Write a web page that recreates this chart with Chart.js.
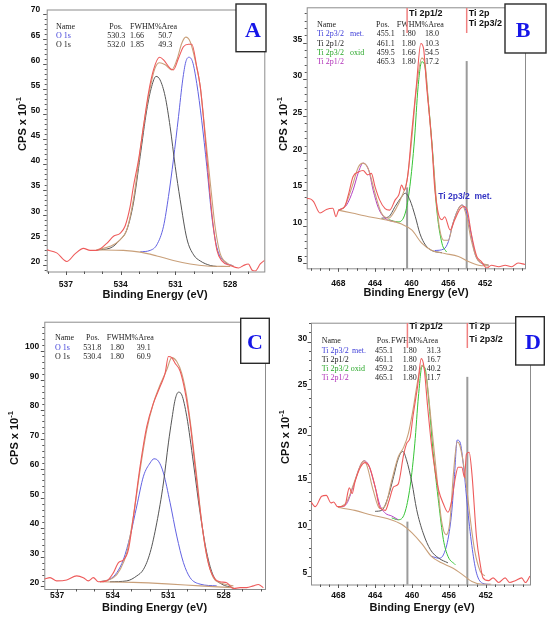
<!DOCTYPE html>
<html>
<head>
<meta charset="utf-8">
<script src="https://cdn.jsdelivr.net/npm/chart.js@4.4.1/dist/chart.umd.min.js"></script>
<style>
  body { margin: 0; background: #fff; }
  #wrap { position: relative; width: 550px; height: 625px; overflow: hidden; background: #fff; }
  canvas { position: absolute; }
</style>
</head>
<body>
<div id="wrap">
  <canvas id="pA" width="275" height="310" style="left:0;top:0"></canvas>
  <canvas id="pB" width="275" height="310" style="left:275px;top:0"></canvas>
  <canvas id="pC" width="275" height="315" style="left:0;top:310px"></canvas>
  <canvas id="pD" width="275" height="315" style="left:275px;top:310px"></canvas>
</div>
<script>
// ---------- panel A : O 1s ----------
var aXTicks = [537, 534, 531, 528];
var aYTicks = [20, 25, 30, 35, 40, 45, 50, 55, 60, 65, 70];
var aNames = ['O 1s', 'O 1s'];
var aPos = [530.3, 532.0];
var aFwhm = [1.66, 1.85];
var aArea = [50.7, 49.3];
var aRaw = [[538.05,23.0],[537.5,22.4],[536.95,20.7],[536.5,22.2],[536.04,23.3],[535.67,22.9],[535.31,22.9],[534.76,24.3],[534.39,25.7],[534.03,26.3],[533.76,27.7],[533.48,31.6],[533.3,35.6],[533.02,40.9],[532.75,47.5],[532.48,54.1],[532.2,58.8],[531.87,61.3],[531.65,60.8],[531.29,59.1],[531.11,58.8],[530.83,61.1],[530.56,63.4],[530.28,63.9],[530.1,63.9],[529.83,59.4],[529.64,55.5],[529.42,47.5],[529.19,37.5],[528.95,28.5],[528.73,23.0],[528.45,20.8],[528.0,19.9],[527.54,19.4],[527.27,19.9],[527.0,20.2],[526.81,19.0],[526.63,18.8],[526.35,20.2],[526.08,21.0]];
var aEnv = [[535.31,23.0],[534.58,23.7],[534.03,25.0],[533.66,27.0],[533.3,33.0],[533.02,40.2],[532.75,47.5],[532.39,55.1],[532.12,59.1],[531.87,60.2],[531.56,59.8],[531.2,58.8],[530.92,60.8],[530.65,64.1],[530.43,65.3],[530.19,64.4],[529.92,60.8],[529.64,55.5],[529.37,46.2],[529.09,36.4],[528.82,27.5],[528.55,22.3],[528.18,20.4],[527.82,19.8]];
var aBg = [[535.31,23.0],[533.85,22.9],[532.93,22.55],[532.02,21.8],[531.11,20.9],[530.19,20.2],[529.28,19.8],[528.0,19.7]];
var aBlack = [[535.31,23.0],[534.58,23.35],[534.03,25.0],[533.66,27.0],[533.3,32.3],[532.93,41.6],[532.57,50.8],[532.3,55.5],[532.06,57.5],[531.84,56.8],[531.56,53.5],[531.29,47.5],[531.01,39.6],[530.74,33.0],[530.37,25.2],[530.0,22.0],[529.64,20.8],[529.09,19.9],[528.73,19.7]];
var aBlue = [[532.93,22.6],[532.38,22.9],[532.02,24.0],[531.65,27.7],[531.38,33.6],[531.11,40.9],[530.83,49.5],[530.6,56.8],[530.43,60.4],[530.26,61.3],[530.06,60.4],[529.83,56.1],[529.56,48.8],[529.28,39.6],[529.0,29.5],[528.73,23.5],[528.36,20.8],[527.82,19.8]];

// ---------- panel B : Ti 2p ----------
var bXTicks = [468, 464, 460, 456, 452];
var bYTicks = [5, 10, 15, 20, 25, 30, 35];
var bNames = ['Ti 2p3/2', 'Ti 2p1/2', 'Ti 2p3/2', 'Ti 2p1/2'];
var bTags = ['met.', '', 'oxid', ''];
var bPos = [455.1, 461.1, 459.5, 465.3];
var bFwhm = [1.80, 1.80, 1.66, 1.80];
var bArea = [18.0, 10.3, 54.5, 17.2];
var bRaw = [[471.45,13.8],[471.0,13.7],[470.7,13.35],[470.0,11.8],[469.3,12.3],[468.6,12.45],[468.25,11.3],[468.0,12.1],[467.3,12.7],[466.9,14.3],[466.4,16.75],[465.8,17.4],[465.3,17.6],[464.8,17.0],[464.4,17.2],[464.0,15.4],[463.5,13.6],[462.9,12.4],[462.4,12.2],[461.8,13.6],[461.4,14.3],[461.1,15.6],[460.8,14.9],[460.4,17.2],[460.0,22.7],[459.5,29.0],[459.0,34.9],[458.7,34.2],[458.4,29.5],[457.8,21.3],[457.5,15.4],[457.1,11.8],[456.7,10.9],[456.4,11.3],[455.8,9.5],[455.3,10.9],[454.7,12.4],[454.3,12.7],[453.9,12.0],[453.5,9.0],[452.9,5.9],[452.4,5.2],[451.8,4.3],[451.3,4.7],[450.5,4.5],[449.8,4.7],[449.1,4.5],[448.4,5.0],[447.64,4.8]];
var bEnv = [[468.0,12.2],[467.3,12.7],[466.5,15.4],[465.8,18.1],[465.3,18.6],[464.7,17.7],[464.0,14.5],[463.3,11.8],[462.5,11.1],[461.8,12.2],[461.1,14.0],[460.5,16.3],[460.0,21.75],[459.5,28.6],[458.9,32.9],[458.5,31.7],[458.2,27.2],[457.6,18.1],[457.1,10.9],[456.5,8.1],[456.0,8.1],[455.5,10.4],[454.9,12.4],[454.5,12.9],[454.0,11.3],[453.5,8.1],[452.9,5.6],[452.4,5.0],[451.6,4.7]];
var bBg = [[468.0,12.2],[466.5,11.8],[464.7,11.3],[462.9,10.9],[461.1,10.3],[460.0,9.5],[458.9,7.7],[457.8,6.7],[456.4,6.3],[454.9,5.9],[453.8,5.2],[452.7,4.7],[451.6,4.6]];
var bPurple = [[468.0,12.2],[467.1,12.9],[466.4,14.9],[465.8,17.4],[465.3,18.6],[464.7,17.7],[464.2,14.9],[463.6,12.4],[462.9,11.1],[461.8,10.6]];
var bBlack = [[463.3,11.1],[462.5,11.3],[461.8,12.7],[461.1,14.0],[460.7,14.5],[460.2,13.6],[459.6,11.3],[459.1,9.0],[458.5,7.45],[457.8,6.7],[456.7,6.4]];
var bGreen = [[462.5,10.9],[461.5,10.6],[460.7,11.8],[460.2,15.4],[459.7,21.75],[459.3,29.0],[458.9,32.4],[458.6,32.0],[458.2,27.2],[457.7,19.9],[457.3,12.7],[456.7,7.7],[456.2,6.5]];
var bBlue = [[457.5,6.7],[456.5,6.9],[456.0,7.9],[455.5,10.4],[454.9,12.4],[454.5,12.9],[454.1,12.2],[453.6,9.5],[453.1,6.3],[452.5,5.05],[451.6,4.7]];

// ---------- panel C : O 1s ----------
var cXTicks = [537, 534, 531, 528];
var cYTicks = [20, 30, 40, 50, 60, 70, 80, 90, 100];
var cNames = ['O 1s', 'O 1s'];
var cPos = [531.8, 530.4];
var cFwhm = [1.80, 1.80];
var cArea = [39.1, 60.9];
var cRaw = [[537.68,22.5],[537.38,23.0],[537.02,21.9],[536.48,22.2],[535.94,23.6],[535.58,23.0],[535.31,21.9],[535.04,23.0],[534.77,21.6],[534.32,21.9],[533.95,24.7],[533.68,28.1],[533.41,29.0],[533.14,32.6],[532.87,43.9],[532.51,60.8],[532.15,74.3],[531.79,82.2],[531.43,87.8],[531.16,92.3],[530.98,98.0],[530.8,97.6],[530.62,95.7],[530.35,93.1],[530.08,86.1],[529.81,75.4],[529.54,60.8],[529.27,46.1],[529.0,33.7],[528.73,25.8],[528.46,22.5],[528.19,21.6],[527.83,21.3],[527.47,19.3],[527.11,19.6],[526.75,19.6],[526.39,20.2],[526.12,20.7],[525.85,19.6]];
var cEnv = [[534.68,21.6],[533.95,23.0],[533.59,25.8],[533.23,31.5],[532.87,43.9],[532.51,59.6],[532.15,73.2],[531.79,82.2],[531.43,88.4],[531.07,93.5],[530.8,97.6],[530.53,96.3],[530.26,92.3],[529.99,84.4],[529.72,72.0],[529.45,57.4],[529.18,41.6],[528.91,30.4],[528.55,23.0],[528.19,21.3],[527.47,20.2]];
var cBg = [[534.68,21.6],[532.87,21.4],[531.07,20.9],[529.27,20.2],[527.47,19.6]];
var cBlue = [[534.68,21.6],[534.14,22.5],[533.77,24.7],[533.41,29.2],[533.05,37.1],[532.69,47.3],[532.33,57.4],[531.97,61.9],[531.76,63.3],[531.52,62.5],[531.25,58.5],[530.89,48.4],[530.53,37.1],[530.17,28.1],[529.81,23.0],[529.27,20.8],[528.37,20.2]];
var cBlack = [[534.14,21.6],[533.23,21.9],[532.69,23.6],[532.33,25.8],[531.97,31.5],[531.61,41.6],[531.25,55.1],[530.98,68.7],[530.8,76.5],[530.62,83.3],[530.44,85.9],[530.26,85.0],[529.99,77.7],[529.63,61.9],[529.27,45.0],[528.91,31.5],[528.55,23.6],[528.1,20.8],[527.47,19.6]];

// ---------- panel D : Ti 2p ----------
var dXTicks = [468, 464, 460, 456, 452];
var dYTicks = [5, 10, 15, 20, 25, 30];
var dNames = ['Ti 2p3/2', 'Ti 2p1/2', 'Ti 2p3/2 oxid', 'Ti 2p1/2'];
var dTags = ['met.', '', '', ''];
var dPos = [455.1, 461.1, 459.2, 465.1];
var dFwhm = [1.80, 1.80, 1.80, 1.80];
var dArea = [31.3, 16.7, 40.2, 11.7];
var dRaw = [[470.96,12.9],[470.5,12.4],[469.8,13.5],[469.3,13.6],[468.8,12.8],[468.5,12.9],[468.1,12.4],[467.3,12.5],[466.8,14.4],[466.5,13.8],[466.2,15.0],[465.6,16.6],[465.1,17.1],[464.6,16.6],[464.0,14.5],[463.5,12.3],[462.9,12.0],[462.5,13.0],[462.0,14.5],[461.5,14.8],[460.9,18.0],[460.6,19.1],[460.2,19.8],[459.9,22.0],[459.4,25.2],[459.0,28.2],[458.7,27.3],[458.3,23.0],[457.9,19.1],[457.5,16.25],[457.1,14.1],[456.6,12.7],[456.1,11.8],[455.7,13.0],[455.3,15.5],[455.0,16.6],[454.6,16.6],[454.3,15.5],[454.1,18.0],[453.8,18.2],[453.5,15.9],[453.0,9.1],[452.6,6.25],[452.3,4.8],[451.7,4.5],[451.2,4.8],[450.6,4.3],[449.9,4.8],[449.4,4.3],[448.8,4.5],[448.1,4.8],[447.7,4.3],[447.2,5.0]];
var dEnv = [[468.0,12.3],[467.1,12.86],[466.2,15.2],[465.5,17.0],[465.2,17.3],[464.9,16.8],[464.2,14.1],[463.5,12.2],[462.9,12.5],[462.2,15.2],[461.5,17.7],[460.9,18.75],[460.4,20.2],[459.9,22.7],[459.3,26.25],[458.9,27.5],[458.4,25.9],[457.9,21.25],[457.3,15.5],[456.8,10.9],[456.3,9.4],[455.9,10.7],[455.5,16.0],[455.1,19.3],[454.8,18.9],[454.2,15.5],[453.7,11.25],[453.2,7.7],[452.6,5.5],[452.1,5.0]];
var dBg = [[468.0,12.3],[466.2,12.0],[464.4,11.5],[462.6,11.1],[461.1,10.5],[460.0,9.6],[458.9,8.4],[457.9,7.1],[456.8,6.4],[455.7,5.9],[454.6,5.2],[453.5,4.4],[452.4,4.1],[451.4,4.1]];
var dPurple = [[468.0,12.3],[467.1,12.7],[466.4,14.5],[465.6,16.8],[465.2,17.3],[464.7,16.8],[464.0,14.5],[463.5,12.6],[462.9,11.7],[462.2,11.4],[461.5,11.0]];
var dBlack = [[464.0,11.9],[463.3,12.0],[462.6,13.4],[462.0,15.6],[461.5,17.5],[461.0,18.3],[460.6,17.4],[460.0,14.9],[459.5,12.1],[458.8,9.6],[458.0,7.8],[457.1,6.9],[456.1,6.4]];
var dGreen = [[462.2,11.2],[461.5,11.0],[460.8,11.7],[460.2,14.6],[459.7,19.1],[459.3,24.2],[458.9,27.4],[458.6,27.2],[458.2,23.9],[457.7,18.1],[457.1,12.75],[456.6,8.9],[456.1,7.1],[455.3,6.2]];
var dBlue = [[457.9,7.1],[457.1,6.9],[456.6,7.25],[456.1,8.9],[455.7,11.75],[455.4,15.6],[455.1,19.5],[454.8,19.3],[454.4,16.6],[453.95,12.0],[453.45,7.8],[453.0,5.3],[452.3,4.2],[451.5,4.1]];

// Ti 2p marker lines (energy, top of grey line)
var bGuides = [[460.5, 15.3], [454.0, 32.5]];
var dGuides = [[460.5, 10.8], [454.0, 26.25]];

var RED = '#ee5b5b', TAN = '#c9a07a', BLUE = '#6262e2', GREY = '#555555', GREEN = '#35c435', PURPLE = '#b342c4';
var NAMECOL = ['#3d3dd8', '#222222', '#2aa82a', '#b030b8'];
var SANS = '"Liberation Sans", Arial, sans-serif';
var SERIF = '"Liberation Serif", "Times New Roman", serif';

function deco(p) {
  return {
    id: 'deco',
    beforeDatasetsDraw: function (chart) {
      var ctx = chart.ctx, a = chart.chartArea, xs = chart.scales.x, ys = chart.scales.y;
      ctx.save();
      (p.guides || []).forEach(function (g) {
        var x = xs.getPixelForValue(g[0]);
        ctx.strokeStyle = '#9b9b9b'; ctx.lineWidth = 2;
        ctx.beginPath(); ctx.moveTo(x, a.bottom); ctx.lineTo(x, ys.getPixelForValue(g[1])); ctx.stroke();
      });
      ctx.strokeStyle = '#8c8c8c'; ctx.lineWidth = 1;
      ctx.strokeRect(a.left + 0.5, a.top + 0.5, a.right - a.left, a.bottom - a.top);
      ctx.strokeStyle = '#555'; ctx.beginPath();
      var i, v, px, len;
      for (i = Math.ceil(ys.min / p.yMinor); i * p.yMinor <= ys.max; i++) {
        v = i * p.yMinor; px = Math.round(ys.getPixelForValue(v)) + 0.5;
        len = p.yTicks.indexOf(v) >= 0 ? 3.5 : 2;
        ctx.moveTo(a.left, px); ctx.lineTo(a.left - len, px);
      }
      for (i = Math.ceil(xs.min); i <= xs.max; i++) {
        px = Math.round(xs.getPixelForValue(i)) + 0.5;
        len = p.xTicks.indexOf(i) >= 0 ? 3.5 : 2.5;
        ctx.moveTo(px, a.bottom); ctx.lineTo(px, a.bottom + len);
      }
      ctx.stroke();
      ctx.restore();
    },
    afterDraw: function (chart) {
      var ctx = chart.ctx, xs = chart.scales.x, ys = chart.scales.y;
      var X = function (v) { return xs.getPixelForValue(v) + p.ox; };
      var Y = function (v) { return ys.getPixelForValue(v) + p.oy; };
      ctx.save();
      ctx.translate(-p.ox, -p.oy);
      ctx.fillStyle = '#111';
      // axis titles
      ctx.font = 'bold 11px ' + SANS; ctx.textAlign = 'center'; ctx.textBaseline = 'middle';
      ctx.fillText('Binding Energy (eV)', p.xTitle[0], p.xTitle[1]);
      ctx.save();
      ctx.translate(p.yTitle[0], p.yTitle[1]); ctx.rotate(-Math.PI / 2);
      var w1 = ctx.measureText('CPS x 10').width;
      ctx.font = 'bold 7.5px ' + SANS;
      var w2 = ctx.measureText('-1').width;
      ctx.textAlign = 'left';
      ctx.font = 'bold 11px ' + SANS;
      ctx.fillText('CPS x 10', -(w1 + w2) / 2, 0);
      ctx.font = 'bold 7.5px ' + SANS;
      ctx.fillText('-1', -(w1 + w2) / 2 + w1, -4.5);
      ctx.restore();
      // peak table
      var T = p.table;
      ctx.font = '8px ' + SERIF; ctx.textAlign = 'left'; ctx.textBaseline = 'middle';
      ctx.fillStyle = '#222';
      ctx.fillText('Name', T.cols[0], T.rows[0]);
      ctx.fillText('Pos.', T.cols[1], T.rows[0]);
      ctx.fillText('FWHM%Area', T.cols[2], T.rows[0]);
      p.names.forEach(function (n, k) {
        var y = T.rows[k + 1];
        ctx.fillStyle = NAMECOL[p.nameCol[k]];
        ctx.fillText(n, T.cols[0], y);
        if (p.tags && p.tags[k]) ctx.fillText(p.tags[k], T.tagX, y);
        ctx.fillStyle = '#222';
        ctx.fillText(p.pos[k].toFixed(1), T.cols[3], y);
        ctx.fillText(p.fwhm[k].toFixed(2), T.cols[4], y);
        ctx.fillText(p.pct[k].toFixed(1), T.cols[5], y);
      });
      // red markers with labels
      if (p.marks) {
        ctx.font = 'bold 9px ' + SANS; ctx.fillStyle = '#111';
        p.guides.forEach(function (g, k) {
          var x = X(g[0]);
          ctx.strokeStyle = '#f08080'; ctx.lineWidth = 1.5;
          ctx.beginPath(); ctx.moveTo(x, p.marks.top); ctx.lineTo(x, p.marks.bottom); ctx.stroke();
          p.marks.labels[k].forEach(function (s, j) {
            ctx.fillText(s, x + 2, p.marks.rows[k][j]);
          });
        });
      }
      if (p.note) {
        ctx.font = 'bold 8.5px ' + SANS; ctx.fillStyle = '#3434c4';
        ctx.fillText(p.note[2], X(p.note[0]), Y(p.note[1]));
      }
      // letter box
      var L = p.box;
      ctx.fillStyle = '#fff';
      ctx.fillRect(L[0], L[1], L[2] - L[0], L[3] - L[1]);
      ctx.strokeStyle = '#2a2a2a'; ctx.lineWidth = 1.4;
      ctx.strokeRect(L[0], L[1], L[2] - L[0], L[3] - L[1]);
      ctx.font = 'bold 22px ' + SERIF; ctx.fillStyle = '#1616e8';
      ctx.textAlign = 'center'; ctx.textBaseline = 'middle';
      ctx.fillText(p.letter, L[4], L[5]);
      ctx.restore();
    }
  };
}

function panel(id, p) {
  var a = p.plot;
  var curves = [
    [p.raw, RED, 1.1], [p.env, TAN, 1.1], [p.bg, TAN, 1.1]
  ].concat(p.parts);
  new Chart(document.getElementById(id), {
    type: 'scatter',
    data: {
      datasets: curves.map(function (c) {
        return {
          data: c[0].map(function (q) { return { x: q[0], y: q[1] }; }),
          borderColor: c[1], borderWidth: c[2] || 1, showLine: true,
          pointRadius: 0, fill: false, cubicInterpolationMode: 'monotone'
        };
      })
    },
    options: {
      responsive: false, animation: false, events: [],
      layout: { padding: { left: 0, top: a[1], right: p.w - a[2], bottom: 0 } },
      plugins: { legend: { display: false }, tooltip: { enabled: false } },
      scales: {
        x: {
          type: 'linear', reverse: true, min: p.xmin, max: p.xmax,
          grid: { display: false, drawTicks: false }, border: { display: false },
          ticks: { font: { family: SANS, size: 8.5, weight: 'bold' }, color: '#111', padding: p.xpad, maxRotation: 0, autoSkip: false },
          afterBuildTicks: function (s) { s.ticks = p.xTicks.map(function (v) { return { value: v }; }); },
          afterFit: function (s) { s.height = p.h - a[3]; s.paddingLeft = 0; s.paddingRight = 0; }
        },
        y: {
          type: 'linear', min: p.ymin, max: p.ymax,
          grid: { display: false, drawTicks: false }, border: { display: false },
          ticks: { font: { family: SANS, size: 8.5, weight: 'bold' }, color: '#111', padding: p.ypad, labelOffset: -3.5, autoSkip: false },
          afterBuildTicks: function (s) { s.ticks = p.yTicks.map(function (v) { return { value: v }; }); },
          afterFit: function (s) { s.width = a[0]; s.paddingTop = 0; s.paddingBottom = 0; }
        }
      }
    },
    plugins: [deco(p)]
  });
}

panel('pA', {
  ox: 0, oy: 0, w: 275, h: 310, plot: [46.7, 9.5, 264.3, 271.5],
  xmin: 526.13, xmax: 538.05, ymin: 18.7, ymax: 70.8, xpad: 7.9, ypad: 6.5,
  xTicks: aXTicks, yTicks: aYTicks, yMinor: 1,
  raw: aRaw, env: aEnv, bg: aBg, parts: [[aBlack, GREY], [aBlue, BLUE]],
  names: aNames, pos: aPos, fwhm: aFwhm, pct: aArea, nameCol: [0, 1],
  table: { cols: [56, 109.3, 130, 107.3, 130, 158.3], rows: [27.3, 36, 45] },
  xTitle: [155, 294.5], yTitle: [23.3, 124],
  box: [236, 4, 266, 51.7, 253, 31], letter: 'A'
});
panel('pB', {
  ox: 275, oy: 0, w: 275, h: 310, plot: [31.7, 7.3, 250, 268.3],
  xmin: 447.64, xmax: 471.45, ymin: 4.28, ymax: 39.82, xpad: 9.9, ypad: 4.4,
  xTicks: bXTicks, yTicks: bYTicks, yMinor: 1,
  raw: bRaw, env: bEnv, bg: bBg, parts: [[bPurple, PURPLE], [bBlack, GREY], [bGreen, GREEN], [bBlue, BLUE]],
  names: bNames, tags: bTags, pos: bPos, fwhm: bFwhm, pct: bArea, nameCol: [0, 1, 2, 3],
  table: { cols: [317, 376, 396.7, 376.7, 401.7, 425], rows: [25, 34.3, 43.7, 53, 62.3], tagX: 350 },
  guides: bGuides,
  marks: { top: 8, bottom: 33, labels: [['Ti 2p1/2'], ['Ti 2p', 'Ti 2p3/2']], rows: [[13.3], [14, 24]] },
  note: [457.1, 14.0, 'Ti 2p3/2  met.'],
  xTitle: [416, 293.3], yTitle: [284.3, 124],
  box: [505, 4, 546, 53, 523, 31], letter: 'B'
});
panel('pC', {
  ox: 0, oy: 310, w: 275, h: 315, plot: [44.3, 11.7, 265, 279],
  xmin: 525.76, xmax: 537.69, ymin: 19.15, ymax: 109.8, xpad: 1.5, ypad: 5,
  xTicks: cXTicks, yTicks: cYTicks, yMinor: 2,
  raw: cRaw, env: cEnv, bg: cBg, parts: [[cBlack, GREY], [cBlue, BLUE]],
  names: cNames, pos: cPos, fwhm: cFwhm, pct: cArea, nameCol: [0, 1],
  table: { cols: [55, 86, 106.7, 83.3, 110, 136.7], rows: [338.3, 347.7, 357.3] },
  xTitle: [154.5, 608], yTitle: [15, 438],
  box: [240.7, 318.3, 269.3, 363.3, 255, 343], letter: 'C'
});
panel('pD', {
  ox: 275, oy: 310, w: 275, h: 315, plot: [36, 12.7, 255, 274.5],
  xmin: 447.2, xmax: 470.96, ymin: 4.09, ymax: 32.03, xpad: 6.4, ypad: 3.7,
  xTicks: dXTicks, yTicks: dYTicks, yMinor: 1,
  raw: dRaw, env: dEnv, bg: dBg, parts: [[dPurple, PURPLE], [dBlack, GREY], [dGreen, GREEN], [dBlue, BLUE]],
  names: dNames, tags: dTags, pos: dPos, fwhm: dFwhm, pct: dArea, nameCol: [0, 1, 2, 3],
  table: { cols: [321.7, 376.7, 391, 375, 402.7, 426.7], rows: [340.7, 350.7, 360, 369.3, 378.3], tagX: 352 },
  guides: dGuides,
  marks: { top: 323, bottom: 348, labels: [['Ti 2p1/2'], ['Ti 2p', 'Ti 2p3/2']], rows: [[326.7], [326.7, 339.3]] },
  xTitle: [422, 608], yTitle: [286.3, 437],
  box: [515.7, 316.7, 544.3, 365, 533, 343], letter: 'D'
});
</script>
</body>
</html>
